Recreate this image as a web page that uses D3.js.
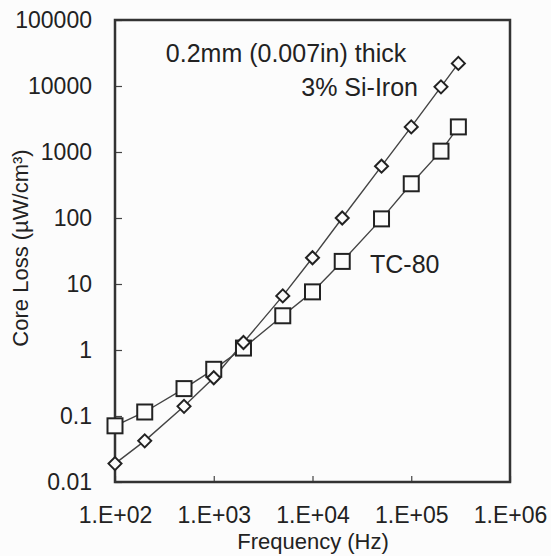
<!DOCTYPE html>
<html>
<head>
<meta charset="utf-8">
<script src="https://cdn.jsdelivr.net/npm/d3@7"></script>
<style>
  body { margin: 0; background: #fcfcfc; }
  svg text { font-family: "Liberation Sans", Arial, sans-serif; fill: #222; }
</style>
</head>
<body>
<div id="chart"></div>
<script>
// Frequencies (Hz)
const freq = [100, 200, 500, 1000, 2000, 5000, 10000, 20000, 50000, 100000, 200000, 300000];
// Core loss values (uW/cm3)
const siIron = [0.019, 0.042, 0.14, 0.38, 1.3, 6.6, 25, 100, 610, 2400, 9700, 22000];
const tc80 = [0.071, 0.115, 0.26, 0.51, 1.07, 3.3, 7.6, 22, 97, 330, 1030, 2400];

const xTicks = [1e2, 1e3, 1e4, 1e5, 1e6];
const xTickLabels = ["1.E+02", "1.E+03", "1.E+04", "1.E+05", "1.E+06"];
const yTicks = [0.01, 0.1, 1, 10, 100, 1000, 10000, 100000];
const yTickLabels = ["0.01", "0.1", "1", "10", "100", "1000", "10000", "100000"];

const width = 551;
const height = 556;
const margin = { top: 20, right: 41, bottom: 74, left: 115 };

const svg = d3.select("#chart")
    .append("svg")
    .attr("width", width)
    .attr("height", height);

const x = d3.scaleLog()
    .domain([1e2, 1e6])
    .range([margin.left, width - margin.right]);

const y = d3.scaleLog()
    .domain([0.01, 100000])
    .range([height - margin.bottom, margin.top]);

// ticks (inside the frame)
const xAxis = d3.axisBottom(x)
    .tickValues(xTicks)
    .tickSize(-6)
    .tickFormat((d, i) => xTickLabels[i]);

const yAxis = d3.axisLeft(y)
    .tickValues(yTicks)
    .tickSize(-7)
    .tickFormat((d, i) => yTickLabels[i]);

const gx = svg.append("g")
    .attr("transform", `translate(0,${height - margin.bottom})`)
    .call(xAxis);
gx.select(".domain").remove();
gx.selectAll(".tick line").attr("stroke", "#444").attr("stroke-width", 1.2);
gx.selectAll(".tick text")
    .attr("y", 25)
    .attr("dy", "0.71em")
    .style("font-size", "23px")
    .style("font-family", "Liberation Sans, Arial, sans-serif")
    .attr("fill", "#222");

const gy = svg.append("g")
    .attr("transform", `translate(${margin.left},0)`)
    .call(yAxis);
gy.select(".domain").remove();
gy.selectAll(".tick line").attr("stroke", "#444").attr("stroke-width", 1.2);
gy.selectAll(".tick text")
    .attr("x", -23)
    .style("font-size", "23px")
    .style("font-family", "Liberation Sans, Arial, sans-serif")
    .attr("fill", "#222");

// frame
svg.append("rect")
    .attr("x", margin.left)
    .attr("y", margin.top)
    .attr("width", width - margin.left - margin.right)
    .attr("height", height - margin.top - margin.bottom)
    .attr("fill", "none")
    .attr("stroke", "#333")
    .attr("stroke-width", 2.5);

const line = d3.line()
    .x(d => x(d[0]))
    .y(d => y(d[1]));

const siData = freq.map((f, i) => [f, siIron[i]]);
const tcData = freq.map((f, i) => [f, tc80[i]]);

svg.append("path")
    .datum(siData)
    .attr("d", line)
    .attr("fill", "none")
    .attr("stroke", "#444")
    .attr("stroke-width", 1.4);

svg.append("path")
    .datum(tcData)
    .attr("d", line)
    .attr("fill", "none")
    .attr("stroke", "#444")
    .attr("stroke-width", 1.4);

// square markers
svg.selectAll(".sq")
    .data(tcData)
    .enter().append("rect")
    .attr("class", "sq")
    .attr("x", d => x(d[0]) - 7.5)
    .attr("y", d => y(d[1]) - 7.5)
    .attr("width", 15)
    .attr("height", 15)
    .attr("fill", "#fcfcfc")
    .attr("stroke", "#222")
    .attr("stroke-width", 2);

// diamond markers
svg.selectAll(".dm")
    .data(siData)
    .enter().append("path")
    .attr("class", "dm")
    .attr("d", d => {
        const cx = x(d[0]), cy = y(d[1]), r = 6.5;
        return `M${cx},${cy - r}L${cx + r},${cy}L${cx},${cy + r}L${cx - r},${cy}Z`;
    })
    .attr("fill", "#fcfcfc")
    .attr("stroke", "#222")
    .attr("stroke-width", 2);

// annotations
svg.append("text")
    .attr("x", 286)
    .attr("y", 62)
    .attr("text-anchor", "middle")
    .style("font-size", "25px")
    .text("0.2mm (0.007in) thick");

svg.append("text")
    .attr("x", 418)
    .attr("y", 96)
    .attr("text-anchor", "end")
    .style("font-size", "25px")
    .text("3% Si-Iron");

svg.append("text")
    .attr("x", 370)
    .attr("y", 273)
    .style("font-size", "25px")
    .text("TC-80");

// axis titles
svg.append("text")
    .attr("x", 313)
    .attr("y", 549)
    .attr("text-anchor", "middle")
    .style("font-size", "22px")
    .text("Frequency (Hz)");

svg.append("text")
    .attr("transform", `translate(28,248) rotate(-90)`)
    .attr("text-anchor", "middle")
    .style("font-size", "22px")
    .text("Core Loss (µW/cm³)");
</script>
</body>
</html>
